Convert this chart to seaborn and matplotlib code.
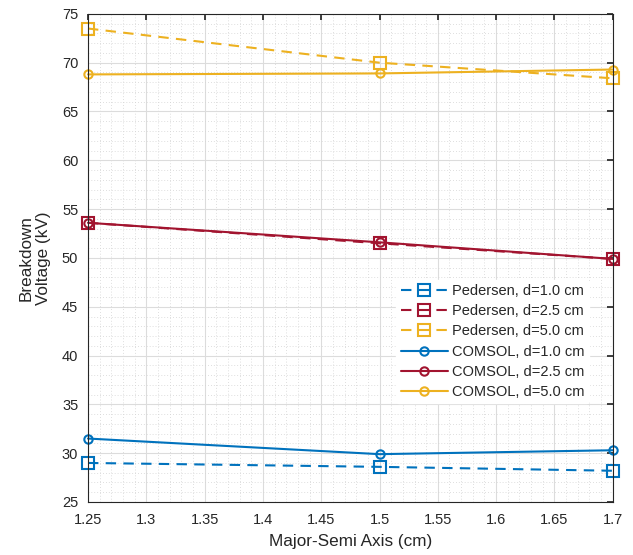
import matplotlib
matplotlib.use("Agg")
import matplotlib.pyplot as plt
import seaborn as sns
import pandas as pd
from matplotlib.ticker import MultipleLocator, FuncFormatter

sns.set_theme(style="white")
plt.rcParams['font.family'] = ['Liberation Sans', 'DejaVu Sans']

x_vals = [1.25, 1.5, 1.7]
ped_10 = [29.0, 28.6, 28.2]
ped_25 = [53.6, 51.5, 49.9]
ped_50 = [73.5, 70.0, 68.4]
com_10 = [31.5, 29.9, 30.3]
com_25 = [53.6, 51.6, 49.9]
com_50 = [68.8, 68.9, 69.3]

series_names = ["Pedersen, d=1.0 cm", "Pedersen, d=2.5 cm", "Pedersen, d=5.0 cm",
                "COMSOL, d=1.0 cm", "COMSOL, d=2.5 cm", "COMSOL, d=5.0 cm"]
series_vals = [ped_10, ped_25, ped_50, com_10, com_25, com_50]
colors = ["#0072BD", "#A2142F", "#EDB120", "#0072BD", "#A2142F", "#EDB120"]

fig = plt.figure(figsize=(6.33, 5.55), dpi=100)
ax = fig.add_axes([0.139, 0.0955, 0.829, 0.8795])

for name, vals, c in zip(series_names, series_vals, colors):
    df = pd.DataFrame({"x": x_vals, "y": vals})
    ped = name.startswith("Pedersen")
    sns.lineplot(data=df, x="x", y="y", ax=ax, color=c, label=name,
                 linestyle="--" if ped else "-",
                 marker="s" if ped else "o",
                 markersize=9 if ped else 6,
                 markerfacecolor="none", markeredgecolor=c, markeredgewidth=1.5,
                 linewidth=1.5, clip_on=False)
    if ped:
        ax.lines[-1].set_dashes([5, 3.5])

ax.set_xlim(1.25, 1.7)
ax.set_ylim(25, 75)
ax.xaxis.set_major_locator(MultipleLocator(0.05))
ax.xaxis.set_minor_locator(MultipleLocator(0.01))
ax.xaxis.set_major_formatter(FuncFormatter(lambda v, p: f"{round(v, 2):g}"))
ax.yaxis.set_major_locator(MultipleLocator(5))
ax.yaxis.set_minor_locator(MultipleLocator(1))
ax.grid(which="major", color="#dcdcdc", linewidth=0.8, linestyle="-")
ax.grid(which="minor", color="#d4d4d4", linewidth=0.6, linestyle=(0, (1, 2.5)))
ax.set_axisbelow(True)
ax.tick_params(which="both", direction="in", top=True, right=True, labelsize=10.5, colors="#262626",
               length=4)
ax.tick_params(axis="x", pad=8)
ax.tick_params(axis="y", pad=7)
ax.tick_params(which="minor", length=0)
for s in ax.spines.values():
    s.set_color("#262626")
    s.set_linewidth(0.8)

ax.set_xlabel("Major-Semi Axis (cm)", fontsize=12.3, color="#262626", labelpad=5)
ax.set_ylabel("Breakdown\nVoltage (kV)", fontsize=12.3, color="#262626", labelpad=8)

leg = ax.legend(loc="upper left", bbox_to_anchor=(0.574, 0.47), fontsize=10.5,
                handlelength=3.2, frameon=True, framealpha=1, facecolor="white",
                edgecolor="white", borderpad=0.3, labelspacing=0.42, handletextpad=0.3)
for t in leg.get_texts():
    t.set_color("#262626")

fig.savefig("out.png", dpi=100)
